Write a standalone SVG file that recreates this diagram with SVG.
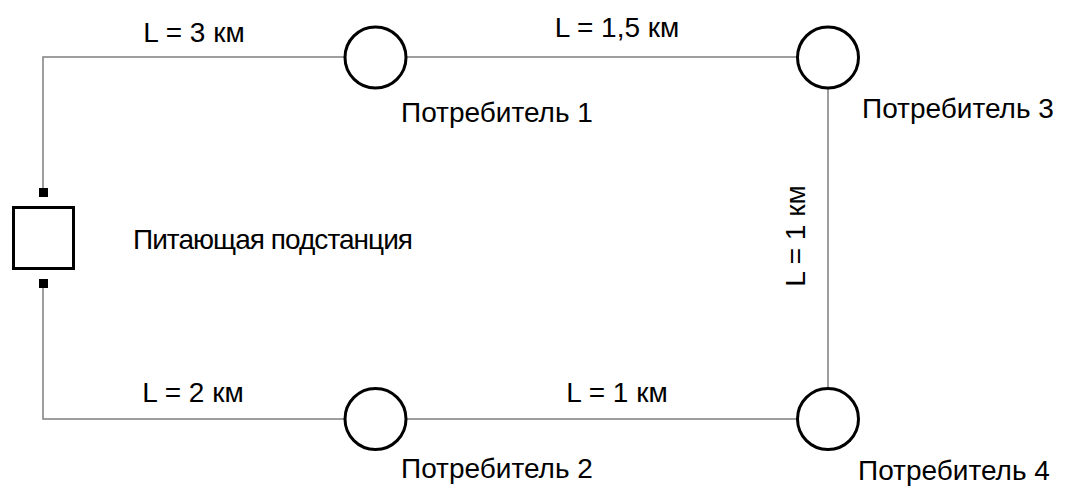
<svg xmlns="http://www.w3.org/2000/svg" width="1066" height="486" viewBox="0 0 1066 486">
<style>
.w{stroke:#7f7f7f;stroke-width:1.5;fill:none}
.c{fill:#fff;stroke:#000;stroke-width:3}
.t{font-family:"Liberation Sans",Arial,sans-serif;font-size:28px;fill:#000}
.m{text-anchor:middle}
</style>
<rect width="1066" height="486" fill="#fff"/>
<g id="connectors">
<polyline class="w" points="43,188 43,57 828,57 828,419 43,419 43,288"/>
</g>
<g id="substation">
<rect x="13.5" y="207.5" width="60" height="61" class="c"/>
<rect x="39" y="188" width="9" height="9" fill="#000"/>
<rect x="39" y="279" width="9" height="9" fill="#000"/>
<text class="t" x="133" y="249" textLength="280" lengthAdjust="spacing">Питающая подстанция</text>
</g>
<g id="consumer1">
<circle class="c" cx="375.5" cy="57.5" r="30.5"/>
<text class="t" x="401" y="122">Потребитель 1</text>
</g>
<g id="consumer3">
<circle class="c" cx="828" cy="57.5" r="30.5"/>
<text class="t" x="862" y="118">Потребитель 3</text>
</g>
<g id="consumer2">
<circle class="c" cx="375.5" cy="419" r="30.5"/>
<text class="t" x="401" y="478">Потребитель 2</text>
</g>
<g id="consumer4">
<circle class="c" cx="828" cy="419" r="30.5"/>
<text class="t" x="858" y="480">Потребитель 4</text>
</g>
<g id="labels">
<text class="t m" x="194" y="42">L = 3 км</text>
<text class="t m" x="617" y="37">L = 1,5 км</text>
<text class="t m" x="193" y="402">L = 2 км</text>
<text class="t m" x="617" y="402">L = 1 км</text>
<text class="t m" transform="translate(805,236) rotate(-90)">L = 1 км</text>
</g>
</svg>
